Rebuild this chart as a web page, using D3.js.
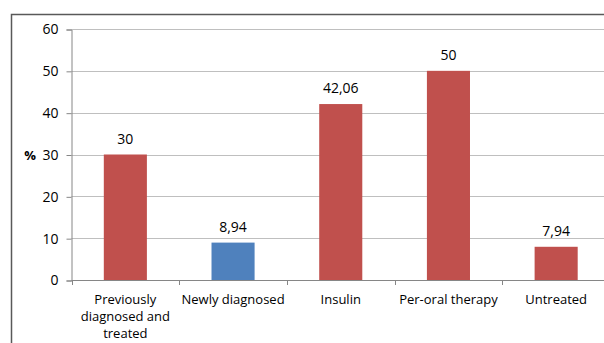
<!DOCTYPE html>
<html>
<head>
<meta charset="utf-8">
<script src="https://cdn.jsdelivr.net/npm/d3@7"></script>
<style>
  html, body { margin: 0; padding: 0; background: #fff; }
  svg { display: block; }
  text { font-family: "Open Sans", "Liberation Sans", sans-serif; fill: #000; }
</style>
</head>
<body>
<svg id="chart" width="604" height="343"></svg>
<script>
// Treatment groups and their shares (%)
const categories = [
  ["Previously", "diagnosed and", "treated"],
  ["Newly diagnosed"],
  ["Insulin"],
  ["Per-oral therapy"],
  ["Untreated"]
];
const values = [30, 8.94, 42.06, 50, 7.94];
const valueLabels = ["30", "8,94", "42,06", "50", "7,94"];
const barColors = ["#C0504D", "#4F81BD", "#C0504D", "#C0504D", "#C0504D"];
const yTicks = [0, 10, 20, 30, 40, 50, 60];
const yTitle = "%";

const svg = d3.select("#chart");

// Chart frame (continues past the right edge)
svg.append("path")
  .attr("d", "M11.5,343 V14.5 H604")
  .attr("fill", "none")
  .attr("stroke", "#595959")
  .attr("stroke-width", 1.5);

const plotLeft = 71.5, plotTop = 29, plotBottom = 280;
const step = 107.7;
const x = d3.scaleBand()
  .domain(d3.range(categories.length))
  .range([plotLeft, plotLeft + step * categories.length])
  .paddingInner(0.6)
  .paddingOuter(0.3);
const y = d3.scaleLinear().domain([0, 60]).range([plotBottom, plotTop]);

// Gridlines
svg.append("g")
  .selectAll("line")
  .data(yTicks.filter(d => d > 0))
  .join("line")
  .attr("x1", plotLeft).attr("x2", 604)
  .attr("y1", d => Math.round(y(d)) + 0.5)
  .attr("y2", d => Math.round(y(d)) + 0.5)
  .attr("stroke", "#BFBFBF")
  .attr("stroke-width", 1.2);

// Y axis
const yAxis = svg.append("g")
  .attr("transform", `translate(${plotLeft},0.5)`)
  .call(d3.axisLeft(y).tickValues(yTicks).tickSize(5).tickPadding(8).tickFormat(d3.format("d")));
yAxis.select(".domain").attr("stroke", "#868686");
yAxis.selectAll(".tick line").attr("stroke", "#868686");
yAxis.selectAll(".tick text")
  .attr("font-size", 14)
  .attr("font-family", "'Open Sans', 'Liberation Sans', sans-serif")
  .attr("fill", "#000");

svg.append("text")
  .attr("x", 30).attr("y", y(30) + 5)
  .attr("text-anchor", "middle")
  .attr("font-size", 13)
  .attr("font-weight", "bold")
  .text(yTitle);

// Bars
svg.append("g")
  .selectAll("rect")
  .data(values)
  .join("rect")
  .attr("x", (d, i) => x(i))
  .attr("width", x.bandwidth())
  .attr("y", d => y(d))
  .attr("height", d => y(0) - y(d))
  .attr("fill", (d, i) => barColors[i]);

// X axis baseline and category dividers
svg.append("line")
  .attr("x1", plotLeft).attr("x2", 604)
  .attr("y1", plotBottom + 0.5).attr("y2", plotBottom + 0.5)
  .attr("stroke", "#868686");
svg.append("g")
  .selectAll("line")
  .data(d3.range(categories.length + 1))
  .join("line")
  .attr("x1", i => Math.round(plotLeft + step * i) + 0.5)
  .attr("x2", i => Math.round(plotLeft + step * i) + 0.5)
  .attr("y1", plotBottom).attr("y2", plotBottom + 5)
  .attr("stroke", "#868686");

// Value labels
svg.append("g")
  .selectAll("text")
  .data(values)
  .join("text")
  .attr("x", (d, i) => x(i) + x.bandwidth() / 2)
  .attr("y", d => y(d) - 11)
  .attr("text-anchor", "middle")
  .attr("font-size", 14)
  .text((d, i) => valueLabels[i]);

// Category labels
const cat = svg.append("g")
  .selectAll("text")
  .data(categories)
  .join("text")
  .attr("x", (d, i) => x(i) + x.bandwidth() / 2)
  .attr("y", 304)
  .attr("text-anchor", "middle")
  .attr("font-size", 13);
cat.selectAll("tspan")
  .data(d => d)
  .join("tspan")
  .attr("x", function () { return d3.select(this.parentNode).attr("x"); })
  .attr("dy", (d, j) => j === 0 ? 0 : 17)
  .text(d => d);
</script>
</body>
</html>
